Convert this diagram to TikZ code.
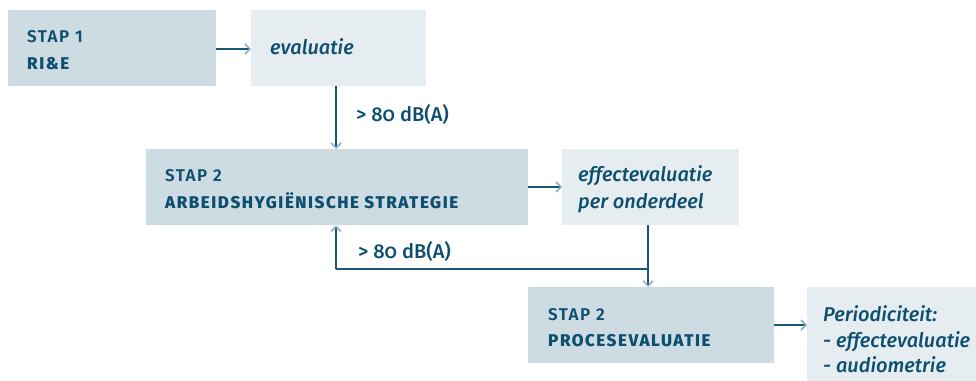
\documentclass[tikz,border=0pt]{standalone}
\usepackage{fontspec}
\setmainfont{Fira Sans Medium}[Numbers=OldStyle]
\newfontfamily\capsfont{Fira Sans SemiBold}[LetterSpace=9]
\newfontfamily\capsbold{Fira Sans ExtraBold}[LetterSpace=9]
\usetikzlibrary{arrows.meta}
\definecolor{boxdark}{HTML}{CDDBE2}
\definecolor{boxlight}{HTML}{E6EDF1}
\definecolor{ink}{HTML}{0E4F70}
\definecolor{linec}{HTML}{1B5676}
\definecolor{tipc}{HTML}{8AAFC2}
\tikzset{
  darkbox/.style={fill=boxdark, draw=none, inner sep=0pt, anchor=north west},
  lightbox/.style={fill=boxlight, draw=none, inner sep=0pt, anchor=north west},
  txt/.style={anchor=base west, inner sep=0pt, text=ink},
  captop/.style={txt, font=\capsfont\fontsize{17}{19}\selectfont},
  capbot/.style={txt, font=\capsbold\fontsize{17}{19}\selectfont},
  itxt/.style={txt, font=\itshape\fontsize{20}{24}\selectfont},
  lbl/.style={txt, font=\fontsize{20}{24}\selectfont},
  conn/.style={draw=linec, line width=1.5pt, -{Straight Barb[length=5pt,width=10pt,color=tipc,line width=1.5pt]}},
  plain/.style={draw=linec, line width=1.5pt}
}
\begin{document}
\begin{tikzpicture}[x=1pt,y=-1pt]
\useasboundingbox (0,0) rectangle (976,380);
% boxes
\node[darkbox, minimum width=208pt, minimum height=76pt] (b1) at (8,10) {};
\node[lightbox, minimum width=175pt, minimum height=76pt] (e1) at (251,10) {};
\node[darkbox, minimum width=382pt, minimum height=76pt] (b2) at (146,149) {};
\node[lightbox, minimum width=177pt, minimum height=76pt] (e2) at (562,149) {};
\node[darkbox, minimum width=246pt, minimum height=76pt] (b3) at (528,287) {};
\node[lightbox, minimum width=170pt, minimum height=94pt] (e3) at (807,287) {};
% texts
\node[captop] (t1a) at (27,42) {STAP 1};
\node[capbot] (t1b) at (27,69) {RI\&E};
\node[itxt] (te1) at (270,54) {evaluatie};
\node[captop] (t2a) at (165,181) {STAP 2};
\node[capbot] (t2b) at (165,208) {ARBEIDSHYGIËNISCHE STRATEGIE};
\node[itxt] (te2a) at (578,181) {effectevaluatie};
\node[itxt] (te2b) at (578,208) {per onderdeel};
\node[captop] (t3a) at (548,320) {STAP 2};
\node[capbot] (t3b) at (548,346) {PROCESEVALUATIE};
\node[itxt] (te3a) at (823,321) {Periodiciteit:};
\node[itxt] (te3b) at (823,347) {- effectevaluatie};
\node[itxt] (te3c) at (823,372) {- audiometrie};
\node[lbl] (l1) at (356,121) {> 80 dB(A)};
\node[lbl] (l2) at (358,258) {> 80 dB(A)};
% connectors
\coordinate (j) at (648,269);
\coordinate (k) at (336,269);
\draw[conn] (b1.east |- 0,49) -- (e1.west |- 0,49);
\draw[conn] (e1.south -| 336,0) -- (b2.north -| 336,0);
\draw[conn] (b2.east |- 0,187) -- (e2.west |- 0,187);
\draw[conn] (e2.south -| 648,0) -- (b3.north -| 648,0);
\draw[plain] (j) -- (k);
\draw[conn] (k) -- (b2.south -| k);
\draw[conn] (b3.east |- 0,325) -- (e3.west |- 0,325);
\end{tikzpicture}
\end{document}
